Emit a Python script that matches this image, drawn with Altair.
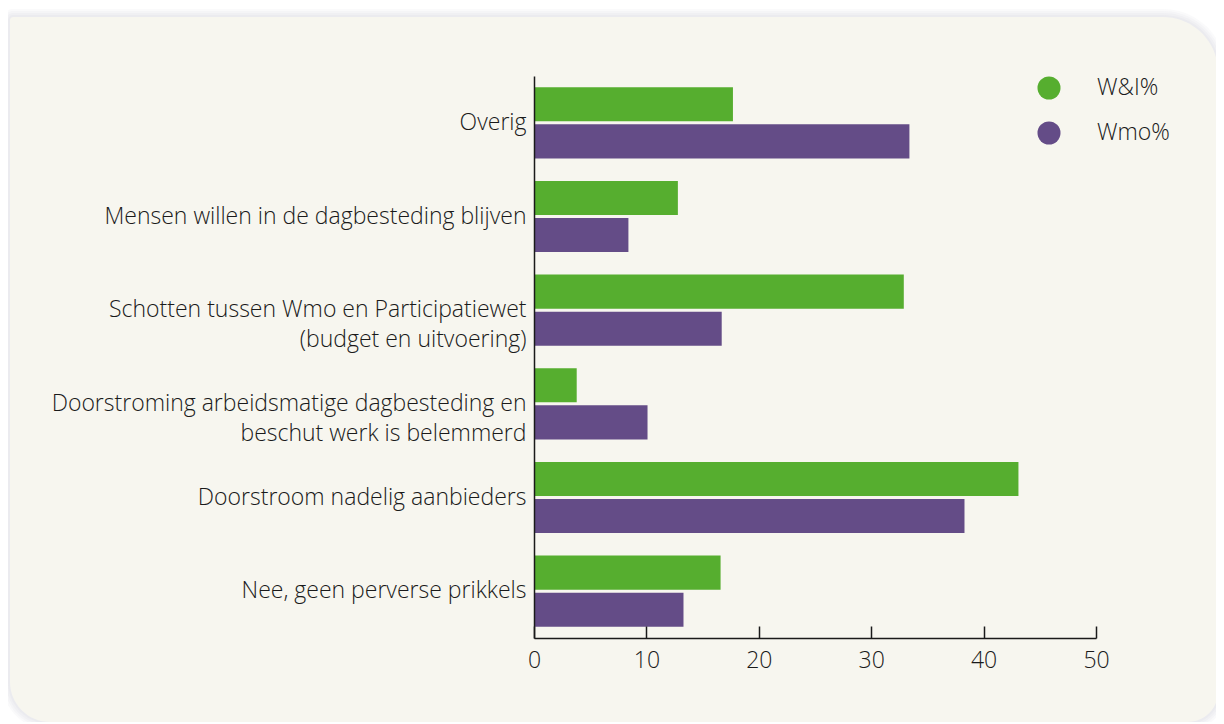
import altair as alt
import pandas as pd

categories = [
    "Overig",
    "Mensen willen in de dagbesteding blijven",
    "Schotten tussen Wmo en Participatiewet|(budget en uitvoering)",
    "Doorstroming arbeidsmatige dagbesteding en|beschut werk is belemmerd",
    "Doorstroom nadelig aanbieders",
    "Nee, geen perverse prikkels",
]
series = ["W&I%", "Wmo%"]
wi_values = [17.7, 12.8, 32.9, 3.8, 43.1, 16.6]
wmo_values = [33.4, 8.4, 16.7, 10.1, 38.3, 13.3]
x_ticks = [0, 10, 20, 30, 40, 50]
colors = ["#56ae2f", "#644c87"]

rows = []
for c, a, b in zip(categories, wi_values, wmo_values):
    rows.append({"cat": c, "series": series[0], "value": a})
    rows.append({"cat": c, "series": series[1], "value": b})
df = pd.DataFrame(rows)

FONT = "Open Sans"
W = 562
H = 562
one = pd.DataFrame({"k": [0]})

# soft shadow around the card
shadows = []
for d in [8, 6, 4, 2]:
    shadows.append(
        alt.Chart(one).mark_rect(
            color="#9a9aa8",
            opacity=0.05,
            cornerRadiusTopLeft=3 + d,
            cornerRadiusTopRight=55 + d,
            cornerRadiusBottomLeft=40 + d,
            cornerRadiusBottomRight=30 + d,
        ).encode(
            x=alt.value(-524 - d), x2=alt.value(684 + d),
            y=alt.value(-59 - d), y2=alt.value(646 + d),
        )
    )

card = alt.Chart(one).mark_rect(
    color="#f7f6ef",
    cornerRadiusTopLeft=3,
    cornerRadiusTopRight=55,
    cornerRadiusBottomLeft=40,
    cornerRadiusBottomRight=30,
).encode(
    x=alt.value(-524), x2=alt.value(684), y=alt.value(-59), y2=alt.value(646)
)

yenc = alt.Y(
    "cat:N",
    sort=categories,
    scale=alt.Scale(paddingInner=0.24, paddingOuter=0.12),
    axis=alt.Axis(
        title=None,
        ticks=False,
        zindex=1,
        labelPadding=8,
        labelFont=FONT,
        labelFontSize=23,
        labelFontWeight=300,
        labelColor="#1a1a1a",
        labelLimit=600,
        labelLineHeight=30,
        labelExpr="split(datum.label, '|')",
        domainColor="#1a1a1a",
        domainWidth=1.5,
    ),
)

bars = alt.Chart(df).mark_bar().encode(
    y=yenc,
    yOffset=alt.YOffset("series:N", sort=series, scale=alt.Scale(paddingInner=0.08)),
    x=alt.X(
        "value:Q",
        scale=alt.Scale(domain=[0, 50], nice=False),
        axis=alt.Axis(
            orient="bottom",
            title=None,
            values=x_ticks,
            ticks=False,
            grid=False,
            zindex=1,
            labelFlush=False,
            labelFont=FONT,
            labelFontSize=23,
            labelFontWeight=300,
            labelColor="#1a1a1a",
            labelPadding=11,
            domainColor="#1a1a1a",
            domainWidth=1.5,
        ),
    ),
    color=alt.Color(
        "series:N",
        sort=series,
        scale=alt.Scale(domain=series, range=colors),
        legend=alt.Legend(
            title=None,
            orient="none",
            legendX=503,
            legendY=0,
            symbolType="circle",
            symbolSize=530,
            symbolStrokeWidth=0,
            labelFont=FONT,
            labelFontSize=23,
            labelFontWeight=300,
            labelColor="#1a1a1a",
            labelOffset=36,
            rowPadding=21,
            padding=0,
        ),
    ),
)

tick_layer = alt.Chart(df).mark_bar(opacity=0).encode(
    y=alt.Y("cat:N", sort=categories),
    x=alt.X(
        "value:Q",
        axis=alt.Axis(
            orient="top",
            offset=-H,
            values=x_ticks,
            labels=False,
            domain=False,
            ticks=True,
            tickSize=12,
            tickWidth=1.5,
            tickColor="#1a1a1a",
            grid=False,
            title=None,
            zindex=1,
        ),
    ),
)

chart = alt.layer(*shadows, card, bars, tick_layer).resolve_axis(x="independent").properties(
    width=W,
    height=H,
    autosize=alt.AutoSizeParams(type="none"),
    padding={"left": 526, "top": 68, "right": 120, "bottom": 84},
    background="#ffffff",
).configure_view(stroke=None)

chart.save("out.html", embed_options={"renderer": "svg", "actions": False})
